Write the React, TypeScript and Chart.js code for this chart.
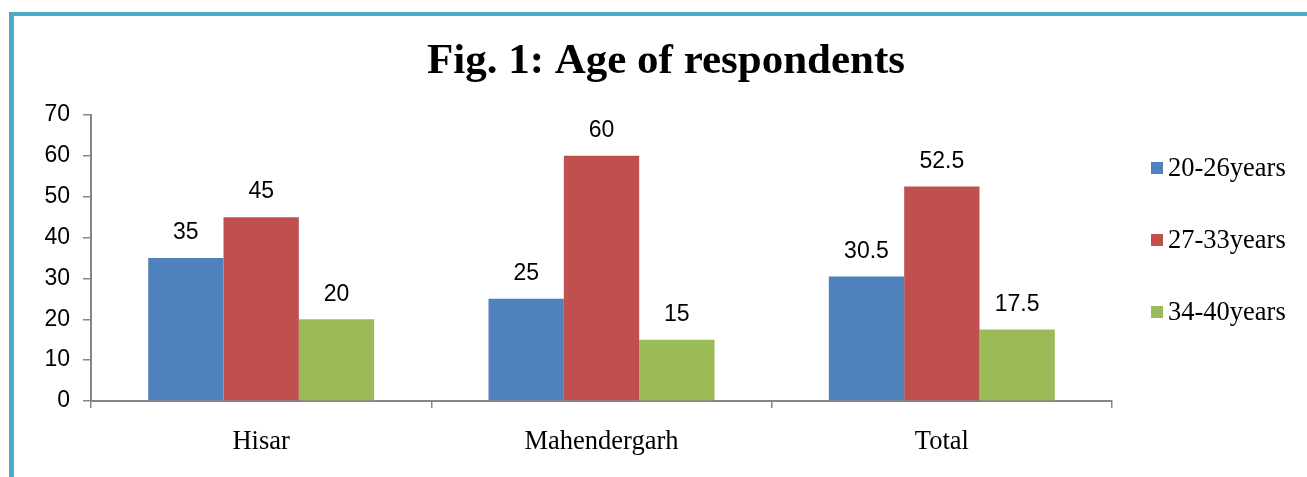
import React, { useEffect, useRef } from "react";
import { Chart, registerables } from "chart.js";

Chart.register(...registerables);

const categories = ["Hisar", "Mahendergarh", "Total"];
const seriesLabels = ["20-26years", "27-33years", "34-40years"];
const series2026 = [35, 25, 30.5];
const series2733 = [45, 60, 52.5];
const series3440 = [20, 15, 17.5];
const seriesColors = ["#4F81BD", "#C0504D", "#9BBB59"];
const titleText = "Fig. 1: Age of respondents";
const yMin = 0;
const yMax = 70;
const yStep = 10;

const AXIS = "#868686";
const FRAME = "#4BACC6";

const framePlugin = {
  id: "frame",
  beforeDraw(chart: any) {
    const ctx = chart.ctx;
    ctx.save();
    ctx.fillStyle = "#ffffff";
    ctx.fillRect(0, 0, chart.width, chart.height);
    ctx.fillStyle = FRAME;
    ctx.fillRect(9, 12, chart.width - 9, 4);
    ctx.fillRect(9, 12, 5, chart.height - 12);
    ctx.restore();
  },
};

const titlePlugin = {
  id: "manualTitle",
  afterDraw(chart: any) {
    const ctx = chart.ctx;
    ctx.save();
    ctx.font = "bold 43px 'Liberation Serif', 'Times New Roman', serif";
    ctx.fillStyle = "#000";
    ctx.textAlign = "center";
    ctx.textBaseline = "alphabetic";
    ctx.fillText(titleText, 666, 73);
    ctx.restore();
  },
};

const valueLabelPlugin = {
  id: "valueLabels",
  afterDatasetsDraw(chart: any) {
    const ctx = chart.ctx;
    ctx.save();
    ctx.font = "23px 'Liberation Sans', Arial, sans-serif";
    ctx.fillStyle = "#000";
    ctx.textAlign = "center";
    ctx.textBaseline = "middle";
    chart.data.datasets.forEach((ds: any, i: number) => {
      const meta = chart.getDatasetMeta(i);
      meta.data.forEach((el: any, j: number) => {
        ctx.fillText(String(ds.data[j]), el.x, el.y - 25);
      });
    });
    ctx.restore();
  },
};

const legendPlugin = {
  id: "manualLegend",
  afterDraw(chart: any) {
    const ctx = chart.ctx;
    ctx.save();
    ctx.font = "26.5px 'Liberation Serif', 'Times New Roman', serif";
    ctx.textBaseline = "middle";
    ctx.textAlign = "left";
    chart.data.datasets.forEach((ds: any, i: number) => {
      const cy = 168 + i * 72;
      ctx.fillStyle = ds.backgroundColor;
      ctx.fillRect(1151, cy - 6, 12, 12);
      ctx.fillStyle = "#000";
      ctx.fillText(ds.label, 1168, cy + 1);
    });
    ctx.restore();
  },
};

export default function App() {
  const ref = useRef<HTMLCanvasElement | null>(null);
  useEffect(() => {
    document.body.style.margin = "0";
    if (!ref.current) return;
    const values = [series2026, series2733, series3440];
    const chart = new Chart(ref.current, {
      type: "bar",
      data: {
        labels: categories,
        datasets: seriesLabels.map((label, i) => ({
          label,
          data: values[i],
          backgroundColor: seriesColors[i],
          borderWidth: 0,
          categoryPercentage: 0.664,
          barPercentage: 1,
        })),
      },
      options: {
        responsive: false,
        animation: false,
        layout: { padding: { left: 0, right: 195, top: 115, bottom: 0 } },
        plugins: {
          legend: { display: false },
          title: { display: false },
          tooltip: { enabled: false },
        },
        scales: {
          x: {
            afterFit: (scale: any) => {
              scale.height = 76;
            },
            grid: {
              display: true,
              offset: true,
              drawOnChartArea: false,
              drawTicks: true,
              tickLength: 7,
              color: AXIS,
              lineWidth: 1.5,
            },
            border: { display: true, color: AXIS, width: 2 },
            ticks: {
              color: "#000",
              padding: 18,
              font: { family: "'Liberation Serif', 'Times New Roman', serif", size: 26.5 },
            },
          },
          y: {
            min: yMin,
            max: yMax,
            afterFit: (scale: any) => {
              scale.width = 91;
            },
            grid: {
              display: true,
              drawOnChartArea: false,
              drawTicks: true,
              tickLength: 8,
              color: AXIS,
              lineWidth: 1.5,
            },
            border: { display: true, color: AXIS, width: 2 },
            ticks: {
              stepSize: yStep,
              color: "#000",
              padding: 13,
              font: { family: "'Liberation Sans', Arial, sans-serif", size: 23 },
            },
          },
        },
      },
      plugins: [framePlugin, titlePlugin, valueLabelPlugin, legendPlugin],
    });
    return () => chart.destroy();
  }, []);
  return (
    <div style={{ width: 1307, height: 477 }}>
      <canvas ref={ref} width={1307} height={477} style={{ display: "block" }} />
    </div>
  );
}
